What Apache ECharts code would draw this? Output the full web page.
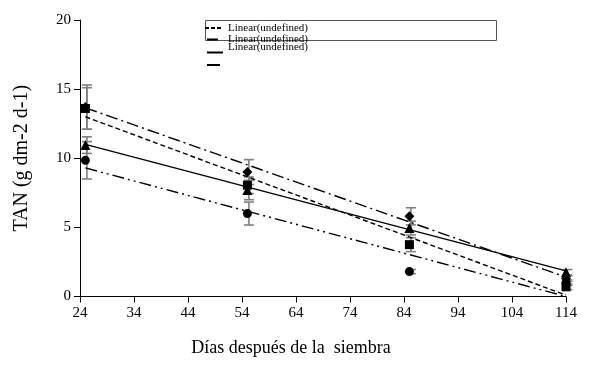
<!DOCTYPE html>
<html>
<head>
<meta charset="utf-8">
<script src="https://cdn.jsdelivr.net/npm/echarts@6/dist/echarts.min.js"></script>
<style>html,body{margin:0;padding:0;background:#fff}#c{width:600px;height:373px}</style>
</head>
<body>
<div id="c"></div>
<script>
// ---- data ----
const days = [25, 55, 85, 114];
const axisStartDay = 24;
const xTickStep = 10;
const xAxisSpan = 90;
const diamondVals = [13.7, 9.0, 5.8, 1.3];
const squareVals = [13.6, 8.05, 3.75, 0.7];
const triangleVals = [10.95, 7.7, 4.95, 1.75];
const circleVals = [9.85, 6.0, 1.8, 1.0];
const diamondErr = [1.6, 0.9, 0.62, 0.2];
const squareErr = [1.5, 0.6, 0.5, 0.2];
const triangleErr = [0.6, 0.7, 0.5, 0.2];
const circleErr = [1.35, 0.83, 0.15, 0.2];
const trendDays = [25, 114];
const diamondTrend = [13.65, 1.4];
const squareTrend = [13.0, 0.1];
const triangleTrend = [11.0, 1.85];
const circleTrend = [9.3, 0.0];
const legendLabels = ['Linear(undefined)', 'Linear(undefined)', 'Linear(undefined)'];
const xAxisTitle = 'Días después de la  siembra';
const yAxisTitle = 'TAN (g dm-2 d-1)';

const FONT = "'Liberation Serif','Times New Roman',serif";
const toX = d => d - axisStartDay;
const pts = vals => vals.map((v, i) => [toX(days[i]), v]);
const trend = vals => vals.map((v, i) => [toX(trendDays[i]), v]);
const errData = [];
[[diamondVals, diamondErr], [squareVals, squareErr], [triangleVals, triangleErr], [circleVals, circleErr]].forEach(([v, e]) => {
  v.forEach((y, i) => errData.push([toX(days[i]), y, e[i]]));
});

const chart = echarts.init(document.getElementById('c'), null, {renderer: 'canvas'});

function scatter(name, vals, symbol, size) {
  return {
    type: 'scatter', name, data: pts(vals), symbol, symbolSize: size,
    itemStyle: {color: '#000', opacity: 1}, z: 5, silent: true
  };
}
function trendLine(vals, dash) {
  return {
    type: 'line', data: trend(vals), showSymbol: false, symbol: 'none',
    lineStyle: {color: '#000', width: 1.4, type: dash}, z: 4, silent: true
  };
}

const option = {
  animation: false,
  grid: {left: 80, right: 34, top: 20, bottom: 76.5, containLabel: false},
  xAxis: {
    type: 'value', min: 0, max: xAxisSpan, interval: xTickStep,
    name: xAxisTitle, nameLocation: 'middle', nameGap: 43,
    nameTextStyle: {fontFamily: FONT, fontSize: 18, color: '#000', padding: [0, 64, 0, 0]},
    axisLine: {onZero: false, lineStyle: {color: '#000', width: 1}},
    axisTick: {show: true, length: 6, lineStyle: {color: '#000'}},
    axisLabel: {formatter: v => String(v + axisStartDay), fontFamily: FONT, fontSize: 15, color: '#000', margin: 9},
    splitLine: {show: false}
  },
  yAxis: {
    type: 'value', min: 0, max: 20, interval: 5,
    name: yAxisTitle, nameLocation: 'middle', nameGap: 48, nameRotate: 90,
    nameTextStyle: {fontFamily: FONT, fontSize: 20, color: '#000'},
    axisLine: {show: true, lineStyle: {color: '#000', width: 1}},
    axisTick: {show: true, length: 6, lineStyle: {color: '#000'}},
    axisLabel: {fontFamily: FONT, fontSize: 15, color: '#000', margin: 9},
    splitLine: {show: false}
  },
  series: [
    {
      type: 'custom', data: errData, z: 3, silent: true,
      renderItem: (params, api) => {
        const x = api.value(0), y = api.value(1), e = api.value(2);
        const top = api.coord([x, y + e]);
        const bot = api.coord([x, y - e]);
        const cx = top[0] + 1.5;
        const w = 5;
        const st = {stroke: '#808080', lineWidth: 1.6};
        return {
          type: 'group',
          children: [
            {type: 'line', shape: {x1: cx, y1: top[1], x2: cx, y2: bot[1]}, style: st},
            {type: 'line', shape: {x1: cx - w, y1: top[1], x2: cx + w, y2: top[1]}, style: st},
            {type: 'line', shape: {x1: cx - w, y1: bot[1], x2: cx + w, y2: bot[1]}, style: st}
          ]
        };
      }
    },
    trendLine(diamondTrend, [12, 4, 2, 4]),
    trendLine(squareTrend, [5, 3]),
    trendLine(triangleTrend, 'solid'),
    trendLine(circleTrend, [12, 4, 2, 4, 2, 4]),
    scatter('diamond', diamondVals, 'diamond', 10),
    scatter('square', squareVals, 'rect', 9),
    scatter('triangle', triangleVals, 'triangle', 10),
    scatter('circle', circleVals, 'circle', 9)
  ],
  graphic: [
    {type: 'rect', shape: {x: 205.5, y: 20.5, width: 291, height: 20}, style: {fill: '#fff', stroke: '#555', lineWidth: 1}, z: 10},
    {type: 'line', shape: {x1: 205, y1: 28, x2: 223, y2: 28}, style: {stroke: '#000', lineWidth: 2, lineDash: [4, 2]}, z: 11},
    {type: 'line', shape: {x1: 207, y1: 39.5, x2: 218, y2: 39.5}, style: {stroke: '#000', lineWidth: 2}, z: 11},
    {type: 'line', shape: {x1: 207, y1: 52.5, x2: 223, y2: 52.5}, style: {stroke: '#000', lineWidth: 2}, z: 11},
    {type: 'line', shape: {x1: 207, y1: 65, x2: 220, y2: 65}, style: {stroke: '#000', lineWidth: 2}, z: 11},
    {type: 'text', x: 228, y: 28, style: {text: legendLabels[0], font: "11px " + FONT, fill: '#000', verticalAlign: 'middle'}, z: 12},
    {type: 'text', x: 228, y: 39, style: {text: legendLabels[1], font: "11px " + FONT, fill: '#000', verticalAlign: 'middle'}, z: 12},
    {type: 'text', x: 228, y: 47, style: {text: legendLabels[2], font: "11px " + FONT, fill: '#000', verticalAlign: 'middle'}, z: 12}
  ]
};
chart.setOption(option);
</script>
</body>
</html>
